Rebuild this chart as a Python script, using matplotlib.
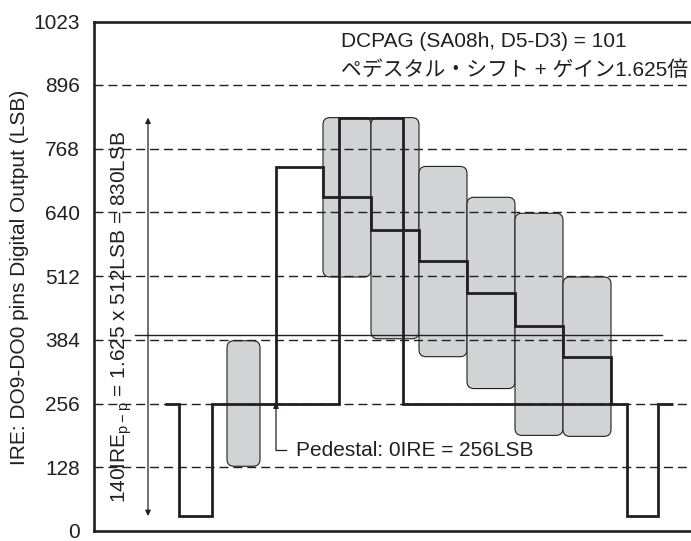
import matplotlib.pyplot as plt
from matplotlib.patches import FancyBboxPatch

plt.rcParams['font.family'] = ['Liberation Sans', 'Noto Sans CJK JP', 'DejaVu Sans']

# y axis ticks (LSB)
yticks = [0, 128, 256, 384, 512, 640, 768, 896, 1023]
grid_levels = [128, 256, 384, 512, 640, 768, 896]

# waveform 1: sync, pedestal, white pulse, staircase, sync
wave1_edges = [71, 85, 118, 182, 229, 277, 325, 373, 421, 469, 517, 533, 564, 579]
wave1_levels = [256, 30, 256, 730, 670, 604, 542, 478, 412, 350, 256, 30, 256]

# waveform 2: tall pulse after pedestal shift + gain
wave2_edges = [182, 245, 309, 517]
wave2_levels = [256, 830, 256]

# grey ranges (x start, x end, low, high)
box_x0 = [133, 229, 277, 325, 373, 421, 469]
box_x1 = [166, 277, 325, 373, 421, 469, 517]
box_lo = [130, 510, 386, 350, 286, 192, 190]
box_hi = [382, 830, 830, 732, 670, 638, 510]

ref_level = 394
ink = '#231f20'

fig = plt.figure(figsize=(6.91, 5.41), dpi=100)
ax = fig.add_axes([94 / 691, 10 / 541, (697 - 94) / 691, 509.5 / 541])
ax.set_xlim(0, 603)
ax.set_ylim(0, 1023)

for x0, x1, lo, hi in zip(box_x0, box_x1, box_lo, box_hi):
    p = FancyBboxPatch((x0, lo), x1 - x0, hi - lo,
                       boxstyle='round,pad=0,rounding_size=7', mutation_aspect=2,
                       facecolor='#d1d3d4', edgecolor=ink, lw=0.8, zorder=1)
    ax.add_patch(p)

for lv in grid_levels:
    ax.axhline(lv, color=ink, lw=1, ls=(0, (6.5, 3.5)), zorder=2)

ax.plot([41, 568], [ref_level, ref_level], color=ink, lw=1, zorder=2)

ax.stairs(wave1_levels, wave1_edges, baseline=None, color=ink, lw=2, zorder=3)
ax.stairs(wave2_levels, wave2_edges, baseline=None, color=ink, lw=2, zorder=3)

# 140IRE span arrow
ax.annotate('', xy=(54, 830), xytext=(54, 30),
            arrowprops=dict(arrowstyle='<|-|>', color=ink, lw=0.9,
                            mutation_scale=8, shrinkA=0, shrinkB=0))
ax.text(28, 430, r'140IRE$_{\mathregular{p-p}}$ = 1.625 x 512LSB = 830LSB',
        rotation=90, ha='center', va='center', fontsize=15, color=ink)

# pedestal callout
ax.plot([192, 182], [162, 162], color=ink, lw=0.9)
ax.annotate('', xy=(182, 258), xytext=(182, 162),
            arrowprops=dict(arrowstyle='-|>', color=ink, lw=0.9,
                            mutation_scale=8, shrinkA=0, shrinkB=0))
ax.text(202, 162, 'Pedestal: 0IRE = 256LSB', ha='left', va='center',
        fontsize=15, color=ink)

ax.text(247, 982, 'DCPAG (SA08h, D5-D3) = 101', ha='left', va='center',
        fontsize=15, color=ink)
ax.text(247, 926, 'ペデスタル・シフト + ゲイン1.625倍', ha='left', va='center',
        fontsize=15, color=ink)

ax.set_yticks(yticks)
ax.set_xticks([])
ax.tick_params(axis='y', length=0, pad=10, labelsize=15, labelcolor=ink)
for s in ['left', 'bottom', 'top']:
    ax.spines[s].set_linewidth(1.9)
    ax.spines[s].set_color(ink)
ax.spines['right'].set_visible(False)

fig.text(20 / 691, 1 - 277 / 541, 'IRE: DO9-DO0 pins Digital Output (LSB)',
         rotation=90, ha='center', va='center', fontsize=15, color=ink)

fig.savefig('out.png', dpi=100)
